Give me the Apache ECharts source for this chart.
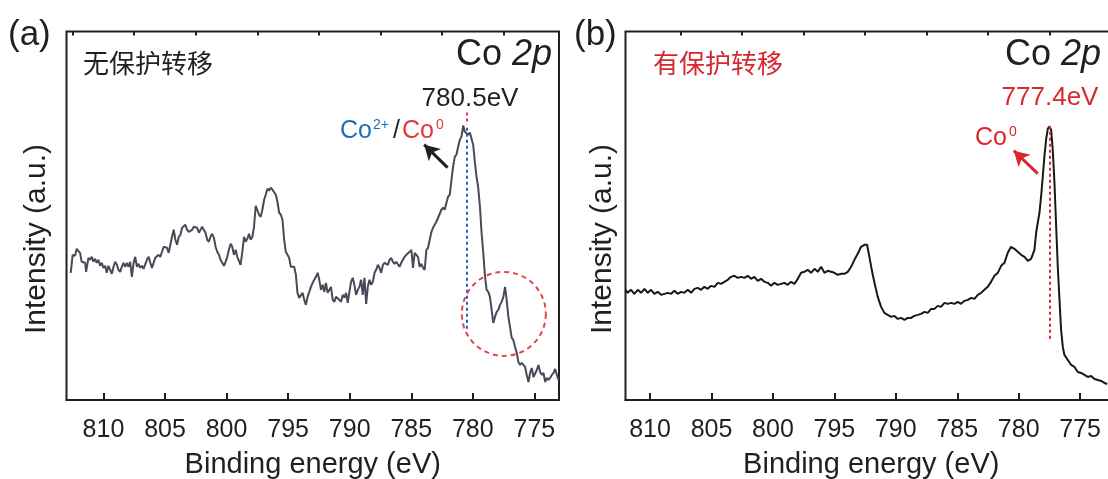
<!DOCTYPE html>
<html>
<head>
<meta charset="utf-8">
<title>Co 2p XPS</title>
<script src="https://cdn.jsdelivr.net/npm/echarts@6.0.0/dist/echarts.min.js"></script>
<style>
  html, body { margin: 0; padding: 0; background: #fff; }
  #main { width: 1108px; height: 479px; }
</style>
</head>
<body>
<div id="main"></div>
<script>
// (a) without protection: binding energy (eV) and intensity (a.u.)
var energyA = [812.66, 812.50, 812.31, 812.17, 812.04, 811.90, 811.77, 811.63, 811.49, 811.41,
  811.22, 811.09, 810.95, 810.82, 810.68, 810.54, 810.41, 810.27, 810.14,
  810.00, 809.86, 809.73, 809.59, 809.46, 809.32, 809.18, 809.05, 808.91, 808.78,
  808.64, 808.51, 808.37, 808.23, 808.10, 807.96, 807.83, 807.69, 807.55, 807.42,
  807.28, 807.15, 807.01, 806.87, 806.74, 806.60, 806.47, 806.33, 806.19, 806.06,
  805.92, 805.79, 805.65, 805.52, 805.38, 805.24, 805.11, 804.97, 804.84, 804.70,
  804.56, 804.43, 804.29, 804.16, 804.02, 803.88, 803.75, 803.61, 803.48, 803.34,
  803.21, 803.07, 802.93, 802.80, 802.66, 802.53, 802.39, 802.25, 802.12, 801.98,
  801.85, 801.71, 801.57, 801.44, 801.30, 801.17, 801.03, 800.89, 800.76, 800.62,
  800.49, 800.35, 800.21, 800.08, 799.94, 799.81, 799.67, 799.54, 799.40, 799.26,
  799.13, 798.99, 798.86, 798.72, 798.58, 798.45, 798.31, 798.18, 798.04, 797.90,
  797.77, 797.63, 797.50, 797.36, 797.23, 797.09, 796.95, 796.82, 796.68, 796.55,
  796.41, 796.27, 796.14, 796.00, 795.87, 795.73, 795.59, 795.46, 795.32, 795.19,
  795.05, 794.92, 794.78, 794.64, 794.51, 794.37, 794.24, 794.10, 793.96, 793.83,
  793.69, 793.56, 793.42, 793.28, 793.15, 793.01, 792.88, 792.74, 792.60, 792.47,
  792.33, 792.20, 792.06, 791.93, 791.79, 791.65, 791.52, 791.38, 791.25, 791.11,
  790.97, 790.84, 790.70, 790.57, 790.43, 790.29, 790.16, 790.02, 789.89, 789.75,
  789.62, 789.48, 789.34, 789.21, 789.07, 788.94, 788.80, 788.66, 788.53, 788.39,
  788.26, 788.12, 787.98, 787.85, 787.71, 787.58, 787.44, 787.30, 787.17, 787.03,
  786.90, 786.76, 786.63, 786.49, 786.35, 786.22, 786.08, 785.95, 785.81, 785.67,
  785.54, 785.40, 785.27, 785.13, 784.99, 784.86, 784.72, 784.59, 784.45, 784.32,
  784.18, 784.04, 783.91, 783.77, 783.64, 783.50, 783.36, 783.23, 783.09, 782.96,
  782.82, 782.68, 782.55, 782.41, 782.28, 782.14, 782.01, 781.87, 781.73, 781.60,
  781.46, 781.33, 781.19, 781.05, 780.92, 780.78, 780.65, 780.51, 780.37, 780.24,
  780.10, 779.97, 779.83, 779.70, 779.56, 779.42, 779.29, 779.15, 779.02, 778.88,
  778.74, 778.61, 778.47, 778.34, 778.20, 778.06, 777.93, 777.79, 777.66, 777.52,
  777.38, 777.25, 777.11, 776.98, 776.84, 776.71, 776.57, 776.43, 776.30, 776.16,
  776.03, 775.89, 775.75, 775.62, 775.48, 775.35, 775.21, 775.07, 774.94, 774.80,
  774.67, 774.53, 774.39, 774.26, 774.12, 773.99, 773.85, 773.72, 773.58, 773.44,
  773.31, 773.17, 773.04];
var countsA = [127, 145, 144, 151, 152, 147, 138, 139, 137, 128,
  142, 140, 143, 138, 141, 137, 140, 134, 137,
  132, 134, 127, 134, 133, 126, 133, 138, 135, 130,
  128, 133, 137, 133, 137, 133, 138, 123, 137, 143,
  133, 136, 132, 134, 131, 132, 140, 143, 137, 132,
  133, 142, 141, 145, 143, 148, 153, 154, 152, 147,
  146, 163, 170, 160, 155, 163, 165, 172, 171, 175,
  170, 168, 167, 170, 173, 174, 172, 167, 168, 173,
  170, 167, 160, 158, 163, 166, 162, 153, 148, 145,
  140, 137, 134, 138, 143, 150, 156, 153, 145, 150,
  143, 142, 135, 148, 163, 158, 161, 166, 160, 163,
  173, 194, 195, 185, 183, 190, 200, 205, 211, 209,
  212, 210, 211, 205, 198, 187, 185, 180, 160, 148,
  145, 142, 133, 134, 133, 125, 107, 102, 103, 107,
  100, 95, 103, 108, 113, 117, 117, 123, 127, 120,
  110, 115, 108, 117, 107, 110, 113, 100, 98, 103,
  102, 100, 98, 105, 102, 107, 97, 108, 118, 122,
  115, 105, 110, 113, 120, 105, 122, 96, 113, 120,
  115, 118, 127, 130, 135, 132, 127, 135, 137, 137,
  135, 140, 142, 138, 136, 138, 137, 133, 137, 137,
  143, 145, 146, 148, 150, 132, 147, 148, 143, 133,
  136, 132, 130, 150, 152, 160, 168, 172, 173, 178,
  182, 183, 190, 192, 190, 197, 203, 205, 220, 233,
  243, 245, 253, 260, 263, 274, 268, 267, 265, 267,
  267, 255, 237, 223, 212, 193, 167, 147, 125, 110,
  108, 103, 90, 77, 83, 88, 90, 95, 98, 103,
  113, 100, 83, 73, 62, 60, 53, 47, 38, 35,
  37, 38, 33, 25, 18, 27, 32, 23, 22, 30,
  35, 28, 25, 27, 18, 22, 20, 22, 25, 27,
  31, 25, 20];

// (b) with protection
var energyB = [812.00, 811.82, 811.55, 811.28, 811.00, 810.73, 810.46, 810.19, 809.92, 809.65,
  809.38, 809.10, 808.83, 808.56, 808.29, 808.02, 807.75, 807.48, 807.21, 806.93,
  806.66, 806.39, 806.12, 805.85, 805.58, 805.31, 805.04, 804.76, 804.49, 804.22,
  803.95, 803.68, 803.41, 803.14, 802.86, 802.59, 802.32, 802.05, 801.78, 801.51,
  801.24, 800.97, 800.69, 800.42, 800.15, 799.88, 799.61, 799.34, 799.07, 798.80,
  798.52, 798.25, 797.98, 797.71, 797.44, 797.17, 796.90, 796.62, 796.35, 796.08,
  795.81, 795.54, 795.27, 795.00, 794.73, 794.45, 794.18, 793.91, 793.64, 793.37,
  793.10, 792.83, 792.56, 792.34, 792.15, 791.96, 791.74, 791.47, 791.20, 790.93,
  790.66, 790.38, 790.11, 789.84, 789.57, 789.30, 789.03, 788.76, 788.49, 788.21,
  787.94, 787.67, 787.40, 787.13, 786.86, 786.59, 786.32, 786.04, 785.77, 785.50,
  785.23, 784.96, 784.69, 784.42, 784.14, 783.87, 783.60, 783.33, 783.06, 782.79,
  782.52, 782.25, 781.97, 781.70, 781.43, 781.16, 780.89, 780.62, 780.35, 780.08,
  779.80, 779.53, 779.26, 778.99, 778.72, 778.58, 778.45, 778.31, 778.18, 778.04,
  777.91, 777.77, 777.63, 777.50, 777.36, 777.23, 777.09, 776.95, 776.82, 776.68,
  776.55, 776.41, 776.28, 776.00, 775.73, 775.46, 775.19, 774.92, 774.65, 774.38,
  774.11, 773.83, 773.56, 773.29, 773.02, 772.80];
var countsB = [110, 107, 110, 106, 110, 107, 111, 107, 110, 106,
  108, 105, 106, 107, 106, 109, 106, 108, 107, 110,
  107, 111, 112, 110, 113, 111, 114, 113, 117, 116,
  118, 120, 123, 124, 122, 123, 122, 124, 121, 123,
  119, 121, 118, 117, 114, 117, 115, 116, 117, 115,
  118, 116, 121, 127, 128, 130, 127, 131, 128, 133,
  127, 129, 128, 127, 125, 126, 126, 128, 133, 140,
  146, 153, 155, 155, 143, 130, 117, 103, 93, 87,
  85, 83, 84, 81, 82, 80, 82, 82, 84, 85,
  86, 88, 87, 91, 91, 94, 93, 97, 96, 97,
  96, 98, 96, 99, 100, 102, 101, 105, 107, 110,
  113, 118, 124, 127, 134, 137, 147, 153, 151, 148,
  145, 143, 139, 141, 150, 167, 177, 187, 203, 223,
  243, 260, 271, 273, 270, 250, 217, 173, 133, 100,
  70, 53, 45, 40, 35, 33, 28, 27, 25, 23,
  24, 21, 20, 19, 17, 16];

var majorTicks = [810, 805, 800, 795, 790, 785, 780, 775];
var minorTicksA = [812.5, 807.5, 802.5, 797.5, 792.5, 787.5, 782.5, 777.5];
var minorTicksB = [807.5, 802.5, 797.5, 792.5, 787.5, 782.5, 777.5];

var peakA = 780.5;
var peakB = 777.45;

function zip(xs, ys) {
  var out = [];
  for (var i = 0; i < xs.length; i++) out.push([xs[i], ys[i]]);
  return out;
}

var chart = echarts.init(document.getElementById('main'));
var ink = '#231f20';
var latin = '"Liberation Sans", Arial, sans-serif';
var cjk = '"Noto Sans CJK SC", sans-serif';
var red = '#d7282f';

function majorAxis(grid, min, max) {
  return {
    type: 'value', gridIndex: grid, inverse: true, min: min, max: max,
    name: 'Binding energy (eV)', nameLocation: 'middle', nameGap: 50,
    nameTextStyle: { color: ink, fontSize: 29, fontFamily: latin },
    axisLine: { show: true, lineStyle: { color: ink, width: 2 } },
    axisTick: { show: true, inside: true, length: 7, customValues: majorTicks,
      lineStyle: { color: ink, width: 2 } },
    axisLabel: { color: ink, fontSize: 25, fontFamily: latin, margin: 18, customValues: majorTicks },
    splitLine: { show: false }
  };
}
function minorAxis(grid, min, max, ticks) {
  return {
    type: 'value', gridIndex: grid, inverse: true, min: min, max: max,
    axisLine: { show: false },
    axisTick: { show: true, inside: true, length: 4, customValues: ticks,
      lineStyle: { color: ink, width: 2 } },
    axisLabel: { show: false },
    splitLine: { show: false }
  };
}
function hiddenY(grid) {
  return { type: 'value', gridIndex: grid, min: 0, max: 368,
    axisLine: { show: false }, axisTick: { show: false },
    axisLabel: { show: false }, splitLine: { show: false } };
}
function txt(x, y, text, size, color, align, extra) {
  var st = { text: text, x: x, y: y, fill: color,
    font: size + 'px ' + latin,
    align: align || 'left', textAlign: align || 'left',
    verticalAlign: 'middle', textVerticalAlign: 'middle' };
  if (extra) for (var k in extra) st[k] = extra[k];
  return { type: 'text', silent: true, style: st };
}
function line(seg, color, width, type) {
  var ls = { color: color, width: width, type: type || 'solid' };
  return [{ coord: seg[0], lineStyle: ls }, { coord: seg[1], lineStyle: ls }];
}
function arrow(from, to, color) {
  var ls = { color: color, width: 3, type: 'solid' };
  return [{ coord: from, symbol: 'none', lineStyle: ls },
          { coord: to, symbol: 'arrow', symbolSize: [13, 15], lineStyle: ls }];
}
function title2p(x) {
  return txt(x, 55, '{n|Co }{i|2p}', 36, ink, 'right', {
    rich: { n: { font: '36px ' + latin, fill: ink }, i: { font: 'italic 36px ' + latin, fill: ink } } });
}
function yName(x) {
  return { type: 'text', silent: true, x: x, y: 239, rotation: Math.PI / 2,
    style: { text: 'Intensity (a.u.)', x: 0, y: 0, fill: ink, font: '30px ' + latin,
      align: 'center', textAlign: 'center', verticalAlign: 'middle', textVerticalAlign: 'middle' } };
}

var option = {
  animation: false,
  grid: [
    { left: 66.5, top: 31.5, right: 549, bottom: 79, show: true, borderColor: ink, borderWidth: 2,
      outerBoundsMode: 'none', containLabel: false },
    { left: 625.5, top: 31.5, right: -9, bottom: 79, show: true, borderColor: ink, borderWidth: 2,
      outerBoundsMode: 'none', containLabel: false }
  ],
  xAxis: [
    majorAxis(0, 773, 813), minorAxis(0, 773, 813, minorTicksA),
    majorAxis(1, 772, 812), minorAxis(1, 772, 812, minorTicksB)
  ],
  yAxis: [hiddenY(0), hiddenY(1)],
  series: [
    {
      type: 'line', xAxisIndex: 0, yAxisIndex: 0, data: zip(energyA, countsA),
      showSymbol: false, lineStyle: { color: '#474a58', width: 2 },
      markLine: {
        silent: true, symbol: 'none', label: { show: false },
        data: [
          line([[peakA, 287], [peakA, 275]], '#e23a3f', 2, [3, 3]),
          line([[peakA, 272], [peakA, 70]], '#2b5fc4', 2, [3, 3]),
          arrow([782.05, 232], [783.95, 255], ink)
        ]
      },
      markPoint: {
        silent: true, symbol: 'circle', symbolSize: 84, label: { show: false },
        itemStyle: { color: 'rgba(0,0,0,0)', borderColor: '#e2454c', borderWidth: 2, borderType: [5, 4] },
        data: [{ coord: [777.48, 86] }]
      }
    },
    {
      type: 'line', xAxisIndex: 2, yAxisIndex: 1, data: zip(energyB, countsB),
      showSymbol: false, lineStyle: { color: '#1c1717', width: 2 },
      markLine: {
        silent: true, symbol: 'none', label: { show: false },
        data: [
          line([[peakB, 274], [peakB, 58]], red, 2, [3, 3]),
          arrow([778.45, 226], [780.4, 249], red)
        ]
      }
    }
  ],
  graphic: [
    txt(8, 35, '(a)', 35, ink),
    txt(574, 35, '(b)', 35, ink),
    txt(83, 63, '无保护转移', 26, ink, 'left', { font: '26px ' + cjk }),
    txt(653, 63, '有保护转移', 26, red, 'left', { font: '26px ' + cjk }),
    title2p(552),
    title2p(1101),
    txt(470, 99, '780.5eV', 26, ink, 'center'),
    txt(1050, 98, '777.4eV', 26, red, 'center'),
    txt(340, 131, 'Co', 25, '#1d70b8'),
    txt(373, 125, '2+', 14, '#1d70b8'),
    txt(393, 131, '/', 25, ink),
    txt(402, 131, 'Co', 25, '#e0393a'),
    txt(436, 125, '0', 14, '#e0393a'),
    txt(975, 138, 'Co', 25, red),
    txt(1009, 132, '0', 14, red),
    yName(37),
    yName(603)
  ]
};

chart.setOption(option);
</script>
</body>
</html>
